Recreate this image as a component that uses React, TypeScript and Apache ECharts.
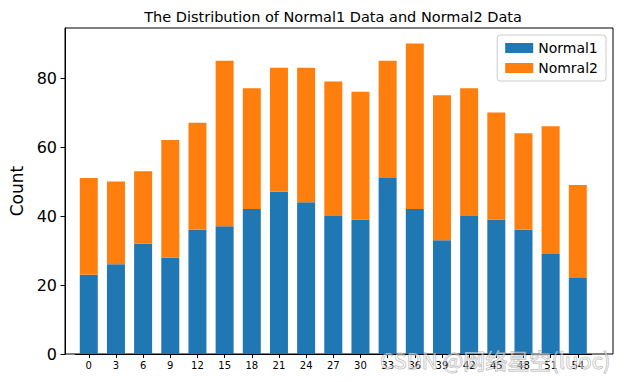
import React, { useEffect, useRef } from "react";
import * as echarts from "echarts";

const xLabels = ["0", "3", "6", "9", "12", "15", "18", "21", "24", "27", "30", "33", "36", "39", "42", "45", "48", "51", "54"];
const normal1 = [23, 26, 32, 28, 36, 37, 42, 47, 44, 40, 39, 51, 42, 33, 40, 39, 36, 29, 22];
const normal2 = [28, 24, 21, 34, 31, 48, 35, 36, 39, 39, 37, 34, 48, 42, 37, 31, 28, 37, 27];
const yTicks = [0, 20, 40, 60, 80];

const FONT = "DejaVu Sans";

export default function App() {
  const ref = useRef<HTMLDivElement>(null);
  useEffect(() => {
    if (!ref.current) return;
    const chart = echarts.init(ref.current, undefined, { renderer: "svg" });
    chart.setOption({
      animation: false,
      backgroundColor: "#fff",
      textStyle: { fontFamily: FONT },
      grid: [
        { left: 53, right: 24, top: 28, bottom: 28, show: true, borderColor: "#000", borderWidth: 1, backgroundColor: "transparent" },
        { left: 75.2, right: 45.6, top: 28, bottom: 28 },
      ],
      graphic: [
        {
          type: "text",
          x: 333,
          y: 17,
          style: { text: "The Distribution of Normal1 Data and Normal2 Data", fontFamily: FONT, fontSize: 14.5, fill: "#000", textAlign: "center", textVerticalAlign: "middle" },
        },
        {
          type: "text",
          x: 380,
          y: 359,
          z: 100,
          style: { text: "CSDN @网络星空(luoc)", fontFamily: "Noto Sans CJK SC", fontSize: 22, fill: "rgba(255,255,255,0.5)", stroke: "rgba(110,110,110,0.5)", lineWidth: 1, textAlign: "left", textVerticalAlign: "middle" },
        },
      ],
      legend: {
        orient: "vertical",
        right: 31,
        top: 35,
        itemWidth: 28,
        itemHeight: 10,
        itemGap: 6,
        padding: [6, 8, 6, 8],
        borderColor: "#ccc",
        borderWidth: 1,
        borderRadius: 3,
        backgroundColor: "rgba(255,255,255,0.8)",
        icon: "rect",
        textStyle: { fontFamily: FONT, fontSize: 14, color: "#000" },
        data: ["Normal1", "Nomral2"],
      },
      xAxis: [
        {
          type: "value",
          gridIndex: 0,
          min: 0,
          max: 1,
          show: false,
        },
        {
          type: "category",
          gridIndex: 1,
          data: xLabels,
          axisLine: { show: true, lineStyle: { color: "#000" } },
          axisTick: { show: true, alignWithLabel: true, length: 4, lineStyle: { color: "#000" } },
          axisLabel: { fontFamily: FONT, fontSize: 10, color: "#000", margin: 6, interval: 0 },
        },
      ],
      yAxis: [
        {
          type: "value",
          gridIndex: 0,
          min: 0,
          max: 94.5,
          name: "Count",
          nameLocation: "middle",
          nameRotate: 90,
          nameGap: 40,
          nameTextStyle: { fontFamily: FONT, fontSize: 17, color: "#000" },
          splitLine: { show: false },
          axisLine: { show: true, onZero: false, lineStyle: { color: "#000" } },
          axisTick: { show: true, customValues: yTicks, length: 4.5, lineStyle: { color: "#000" } },
          axisLabel: { customValues: yTicks, fontFamily: FONT, fontSize: 16, color: "#000", margin: 8 },
        },
        {
          type: "value",
          gridIndex: 1,
          min: 0,
          max: 94.5,
          show: false,
          splitLine: { show: false },
        },
      ],
      series: [
        {
          name: "Normal1",
          type: "bar",
          xAxisIndex: 1,
          yAxisIndex: 1,
          stack: "total",
          barWidth: 18,
          itemStyle: { color: "#1f77b4" },
          data: normal1,
        },
        {
          name: "Nomral2",
          type: "bar",
          xAxisIndex: 1,
          yAxisIndex: 1,
          stack: "total",
          barWidth: 18,
          itemStyle: { color: "#ff7f0e" },
          data: normal2,
        },
      ],
    });
    return () => chart.dispose();
  }, []);
  return <div ref={ref} style={{ position: "absolute", left: 0, top: 0, width: 637, height: 382 }} />;
}
